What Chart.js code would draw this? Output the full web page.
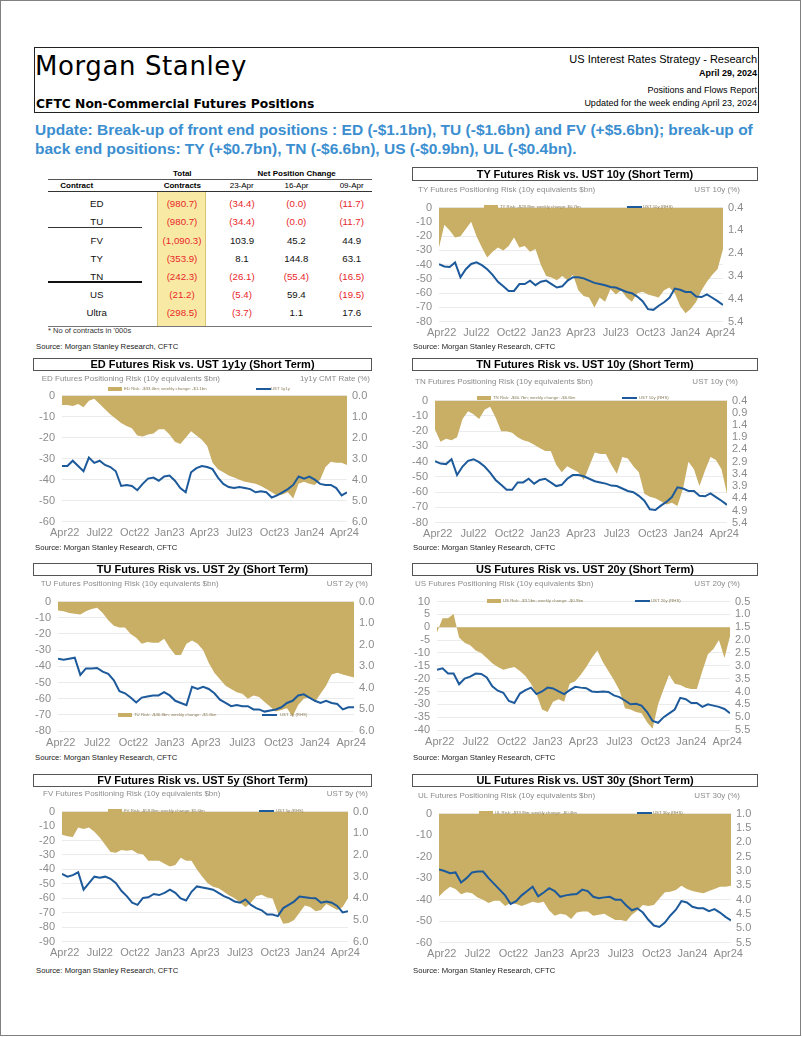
<!DOCTYPE html>
<html><head><meta charset="utf-8">
<script src="https://cdn.jsdelivr.net/npm/chart.js@4.4.1/dist/chart.umd.min.js"></script>
<style>
html,body{margin:0;padding:0;background:#fff}
body{position:relative;width:802px;height:1037px;overflow:hidden;font-family:"Liberation Sans",Arial,sans-serif}
.t{position:absolute;white-space:nowrap}
.box{position:absolute;box-sizing:border-box}
canvas{position:absolute}
</style></head><body>
<div class="box" style="left:0;top:0;width:801px;height:1036px;border:1px solid #808080"></div>
<div class="box" style="left:34px;top:47px;width:725px;height:66px;border:1.5px solid #222"></div>
<script>
// ---------------- DATA ----------------
const xTickWeeks = [0, 13, 26, 39, 52, 65, 78, 91, 104];
const xTickLabels = ['Apr22', 'Jul22', 'Oct22', 'Jan23', 'Apr23', 'Jul23', 'Oct23', 'Jan24', 'Apr24'];

const tyRisk = [-28,-12,-16,-21,-20,-15,-10,-20,-28,-35,-31,-28,-30,-27,-21,-28,-27,-31,-29,-40,-48,-49,-51,-48,-51,-47,-58,-62,-63,-70,-63,-66,-57,-61,-58,-63,-66,-60,-59,-61,-62,-63,-58,-56,-60,-69,-74,-71,-66,-58,-52,-47,-43,-29];
const ust10y = [2.88,2.98,3.0,2.8,3.45,3.1,2.87,2.8,2.92,3.1,3.35,3.65,3.85,4.05,4.05,3.75,3.75,3.6,3.8,3.65,3.6,3.75,3.9,3.85,3.6,3.45,3.45,3.5,3.6,3.7,3.75,3.8,3.88,3.9,4.0,4.1,4.15,4.3,4.5,4.85,4.88,4.7,4.55,4.35,3.95,4.0,4.1,4.1,4.3,4.32,4.2,4.35,4.5,4.67];

const edRisk = [-4.5,-4.5,-5,-4,-5.5,-2.5,-1.5,-4,-6.5,-9,-11,-13,-14.5,-15.5,-19,-19.5,-18.5,-18,-16,-16,-18.5,-22,-23,-20,-17,-19,-21,-24,-32,-35,-36.5,-38,-39,-40,-41,-41.5,-42,-43,-44.5,-46,-47.5,-47,-46,-49,-42,-41,-42,-42.5,-40,-34,-31.5,-32,-32,-33];
const ust1y1y = [3.35,3.35,3.1,3.35,3.6,2.95,3.2,3.1,3.3,3.4,3.6,4.3,4.25,4.3,4.5,4.2,3.95,3.9,4.05,3.85,3.8,4.05,4.4,4.6,3.65,3.45,3.35,3.4,3.5,3.9,4.2,4.35,4.4,4.35,4.4,4.45,4.6,4.55,4.6,4.85,4.75,4.6,4.45,4.25,3.85,3.95,3.85,4.0,4.2,4.25,4.25,4.4,4.75,4.6];

const tnRisk = [-19,-27,-25,-26,-24,-12,-7,-9,-12,-6,-4,-11,-20,-20,-21,-24,-26,-27,-29,-31,-33,-33,-42,-47,-43,-45,-47,-52,-43,-34,-35,-35,-42,-48,-37,-38,-43,-47,-61,-63,-64,-66,-68,-67,-69,-58,-40,-45,-56,-46,-37,-39,-45,-61];

const tuRisk = [-5.5,-6,-7,-7.5,-8,-6,-4.5,-3.8,-7,-11.5,-15,-16,-16,-20,-22.4,-26,-25,-25.5,-25.5,-23,-28.5,-33,-33,-26,-24,-26,-30,-38,-44,-48,-52,-54,-56,-57,-60,-58,-59,-62,-65,-68,-67,-66,-71,-64,-60,-59,-62,-57,-52,-45,-44,-45,-46,-47];
const ust2y = [2.65,2.7,2.65,2.6,3.4,3.1,3.1,3.08,3.25,3.35,3.65,4.15,4.25,4.45,4.68,4.45,4.4,4.35,4.35,4.2,4.35,4.6,4.7,4.8,3.95,4.05,3.95,4.05,4.25,4.55,4.7,4.85,4.8,4.85,4.85,5.0,5.0,5.1,5.05,5.0,4.9,4.7,4.6,4.35,4.3,4.45,4.6,4.7,4.6,4.7,4.75,5.0,4.9,4.9];

const usRisk = [-2,3.5,3.5,5.2,-4,-6,-7,-9,-10,-12,-14,-15.5,-16.5,-16,-15.5,-17,-19,-22,-26,-32,-33,-29,-28,-29,-22,-21,-18.5,-15.5,-12,-9,-13.5,-17,-20.5,-24.5,-31.5,-32,-33,-33.5,-37,-39.5,-30,-24,-18.5,-22,-22.5,-23.5,-24,-24,-17,-10.5,-8.5,-5,-12,-3.5];
const ust20y = [3.15,3.1,3.3,3.3,3.72,3.5,3.42,3.3,3.32,3.45,3.8,3.97,4.05,4.37,4.45,4.08,3.95,3.85,4.1,4.0,3.85,3.88,4.0,4.1,3.95,3.82,3.85,3.87,4.0,4.02,4.0,4.02,4.15,4.22,4.35,4.5,4.48,4.55,4.8,5.15,5.22,5.0,4.85,4.7,4.25,4.3,4.45,4.45,4.6,4.5,4.55,4.6,4.68,4.85];

const fvRisk = [-16,-17,-17.5,-11,-12,-11,-14,-18,-23,-28,-28.5,-26.5,-27,-26.5,-29,-29.5,-34,-34,-34,-36,-38,-37,-32,-34,-34,-40,-45,-49.5,-52,-53,-55.5,-58,-60,-63,-66,-63,-58.5,-57.5,-59.5,-60,-70,-77.5,-77,-75,-70,-65,-66,-69,-68,-64,-66,-68,-66,-60];
const ust5y = [2.87,3.0,2.93,2.8,3.6,3.3,3.0,3.05,3.0,3.1,3.3,3.65,3.9,4.2,4.3,3.98,3.95,3.8,3.85,3.75,3.6,3.75,4.0,4.1,3.7,3.45,3.5,3.55,3.6,3.75,3.9,4.0,4.15,4.2,4.05,4.3,4.45,4.55,4.75,4.75,4.82,4.45,4.3,4.15,3.92,3.95,3.98,4.0,4.2,4.15,4.2,4.35,4.65,4.6];

const ulRisk = [-38.5,-36,-34,-35,-37.5,-36.5,-37,-39,-40,-41.5,-40.5,-40.5,-43,-41.5,-42,-43,-42,-41,-41.5,-41,-45,-47.5,-46.5,-47,-49,-46,-45.5,-45.5,-47.5,-47,-46.5,-48,-49.5,-49.5,-50,-47,-45,-42.5,-43,-42.5,-39.5,-36.5,-36.3,-35.5,-33.5,-35,-36,-36.5,-37,-36,-35,-34,-34,-33.5];
const ust30y = [2.95,3.0,3.08,3.05,3.4,3.25,3.05,3.02,3.02,3.25,3.45,3.65,3.85,4.15,4.05,3.85,3.7,3.55,3.88,3.75,3.6,3.7,3.9,3.85,3.82,3.8,3.65,3.7,3.9,3.95,3.92,3.9,4.0,4.0,4.2,4.37,4.3,4.45,4.7,4.9,4.95,4.8,4.55,4.35,4.05,4.1,4.25,4.3,4.3,4.4,4.33,4.45,4.6,4.72];

// table
const tableContracts = ['ED', 'TU', 'FV', 'TY', 'TN', 'US', 'Ultra'];
const totalContracts = [-980.7, -980.7, -1090.3, -353.9, -242.3, -21.2, -298.5];
const chg23Apr = [-34.4, -34.4, 103.9, 8.1, -26.1, -5.4, -3.7];
const chg16Apr = [-0, -0, 45.2, 144.8, -55.4, 59.4, 1.1];
const chg09Apr = [-11.7, -11.7, 44.9, 63.1, -16.5, -19.5, 17.6];

// tick arrays
const ticks0to80 = [0, -10, -20, -30, -40, -50, -60, -70, -80];
const ticks0to60 = [0, -10, -20, -30, -40, -50, -60];
const ticks0to90 = [0, -10, -20, -30, -40, -50, -60, -70, -80, -90];
const ticks10to40 = [10, 5, 0, -5, -10, -15, -20, -25, -30, -35, -40];
const r04step1 = [0.4, 1.4, 2.4, 3.4, 4.4, 5.4];
const r04step05 = [0.4, 0.9, 1.4, 1.9, 2.4, 2.9, 3.4, 3.9, 4.4, 4.9, 5.4];
const r0to6 = [0, 1, 2, 3, 4, 5, 6];
const r05to55 = [0.5, 1, 1.5, 2, 2.5, 3, 3.5, 4, 4.5, 5, 5.5];
const r1to55 = [1, 1.5, 2, 2.5, 3, 3.5, 4, 4.5, 5, 5.5];

// ---------------- HELPERS ----------------
const GOLD = '#c9ae65';
const BLUE = '#1d5a9b';
const GREY = '#8c8c8c';
const FONT = '"Liberation Sans", Arial, sans-serif';

function T(text, x, cy, o) {
  o = o || {};
  const size = o.size || 10, lh = Math.round(size * 1.3);
  const d = document.createElement('div');
  d.className = 't';
  d.textContent = text;
  let s = `font-size:${size}px;line-height:${lh}px;top:${cy - lh / 2}px;color:${o.color || '#000'};font-weight:${o.weight || (o.bold ? 'bold' : 'normal')};`;
  if (o.family) s += `font-family:${o.family};`;
  if (o.ls) s += `letter-spacing:${o.ls}px;`;
  if (o.align === 'right') s += `right:${802 - x}px;text-align:right;`;
  else if (o.align === 'center') s += `left:${x - 300}px;width:600px;text-align:center;`;
  else s += `left:${x}px;`;
  d.style.cssText = s;
  document.body.appendChild(d);
  return d;
}
function R(x, y, w, h, css) {
  const d = document.createElement('div');
  d.className = 'box';
  d.style.cssText = `left:${x}px;top:${y}px;width:${w}px;height:${h}px;${css}`;
  document.body.appendChild(d);
  return d;
}

// ---------------- HEADER ----------------
T('Morgan Stanley', 35, 65.5, {size: 26, family: '"DejaVu Sans", sans-serif', ls: 0.6});
T('CFTC Non-Commercial Futures Positions', 36, 104, {size: 12.3, bold: true, family: '"DejaVu Sans", sans-serif'});
T('US Interest Rates Strategy - Research', 757, 58.5, {size: 11, align: 'right'});
T('April 29, 2024', 757, 73, {size: 9, bold: true, align: 'right'});
T('Positions and Flows Report', 757, 89.5, {size: 9, align: 'right'});
T('Updated for the week ending April 23, 2024', 757, 103, {size: 9, align: 'right'});
const UPD = '#3b8ed0';
T('Update: Break-up of front end positions : ED (-$1.1bn), TU (-$1.6bn) and FV (+$5.6bn); break-up of', 35, 129.5, {size: 15.5, bold: true, color: UPD});
T('back end positions: TY (+$0.7bn), TN (-$6.6bn), US (-$0.9bn), UL (-$0.4bn).', 35, 148.5, {size: 15.5, bold: true, color: UPD});

// ---------------- TABLE ----------------
R(157, 191.5, 49, 134.5, 'background:#f8eaa4;border-left:1px solid #d8c474;border-right:1px solid #d8c474');
R(48, 179, 324, 1, 'background:#555');
R(48, 191, 324, 1.2, 'background:#333');
R(48, 227, 94, 1, 'background:#333');
R(48, 281, 94, 1.8, 'background:#111');
R(48, 325.5, 324, 1, 'background:#777');
T('Total', 182.3, 174, {size: 8, bold: true, align: 'center'});
T('Net Position Change', 296.7, 174, {size: 8, bold: true, align: 'center'});
T('Contract', 76.7, 185.5, {size: 8, bold: true, align: 'center'});
T('Contracts', 182.3, 185.5, {size: 8, bold: true, align: 'center'});
T('23-Apr', 241.7, 185.5, {size: 8, align: 'center'});
T('16-Apr', 296.5, 185.5, {size: 8, align: 'center'});
T('09-Apr', 351.7, 185.5, {size: 8, align: 'center'});
const rowY = [203.3, 221.7, 240, 258.3, 276, 294.3, 312.7];
function fmt(v) {
  const s = Math.abs(v).toLocaleString('en-US', {minimumFractionDigits: 1, maximumFractionDigits: 1});
  const neg = v < 0 || Object.is(v, -0);
  return {s: neg ? '(' + s + ')' : s, c: neg ? '#e8262a' : '#111'};
}
tableContracts.forEach((c, i) => {
  T(c, 96.7, rowY[i], {size: 9.7, align: 'center', color: '#111'});
  [[totalContracts, 182], [chg23Apr, 242], [chg16Apr, 296.3], [chg09Apr, 351.7]].forEach(([arr, x]) => {
    const f = fmt(arr[i]);
    T(f.s, x, rowY[i], {size: 9.7, align: 'center', color: f.c});
  });
});
T("* No of contracts in '000s", 48, 330.5, {size: 7.5, color: '#333'});
const SRC = 'Source: Morgan Stanley Research, CFTC';
T(SRC, 36, 346.7, {size: 7.7, color: '#222'});

// ---------------- CHARTS ----------------
Chart.defaults.font.family = FONT;
Chart.defaults.font.size = 11;
Chart.defaults.color = GREY;

function makeChart(c) {
  const {L, Rr, Tp, B} = c.rect;
  const cx = Math.floor(L) - 40, cy = Math.floor(Tp) - 9;
  const cw = Math.ceil(Rr) + 40 - cx, ch = Math.ceil(B) + 22 - cy;
  const leftW = L - cx, rightW = cx + cw - Rr, topPad = Tp - cy, botH = cy + ch - B;
  const cv = document.createElement('canvas');
  cv.width = cw; cv.height = ch;
  cv.style.cssText = `left:${cx}px;top:${cy}px;width:${cw}px;height:${ch}px`;
  document.body.appendChild(cv);
  const weeks = c.risk.map((_, i) => -1 + 2 * i);
  new Chart(cv, {
    type: 'line',
    data: {
      datasets: [
        {label: c.lineLabel, data: c.yields.map((v, i) => ({x: weeks[i], y: v})), yAxisID: 'y2',
         borderColor: BLUE, borderWidth: 2, pointRadius: 0, fill: false, tension: 0, order: 0},
        {label: c.riskLabel, data: c.risk.map((v, i) => ({x: weeks[i], y: v})), yAxisID: 'y',
         backgroundColor: GOLD, borderColor: 'rgba(0,0,0,0)', borderWidth: 0, pointRadius: 0, fill: 'origin', tension: 0, order: 1}
      ]
    },
    options: {
      responsive: false, animation: false, devicePixelRatio: 1,
      layout: {padding: {top: topPad, left: 0, right: 0, bottom: 0}},
      plugins: {legend: {display: false}, tooltip: {enabled: false}},
      scales: {
        x: {type: 'linear', min: -1, max: 105, grid: {display: false, drawTicks: false}, border: {display: false},
            afterBuildTicks: s => { s.ticks = xTickWeeks.map(v => ({value: v})); },
            ticks: {autoSkip: false, maxRotation: 0, padding: 5, color: GREY,
                    callback: v => xTickLabels[xTickWeeks.indexOf(v)]},
            afterFit: s => { s.height = botH; }},
        y: {type: 'linear', position: 'left', min: c.lMin, max: c.lMax,
            afterBuildTicks: s => { s.ticks = c.lTicks.map(v => ({value: v})); },
            grid: {color: '#ebebeb', drawTicks: false}, border: {display: false},
            ticks: {autoSkip: false, padding: 7, color: GREY, callback: v => String(v)},
            afterFit: s => { s.width = leftW; }},
        y2: {type: 'linear', position: 'right', reverse: true, min: c.rMin, max: c.rMax,
             afterBuildTicks: s => { s.ticks = c.rTicks.map(v => ({value: v})); },
             grid: {display: false, drawTicks: false}, border: {display: false},
             ticks: {autoSkip: false, padding: 5, color: GREY, callback: v => v.toFixed(1)},
             afterFit: s => { s.width = rightW; }}
      }
    }
  });
  // title box
  const tb = c.titleBox;
  R(tb[0], tb[1], tb[2], tb[3], 'border:1px solid #555;background:#fff');
  T(c.title, tb[0] + tb[2] / 2, tb[1] + tb[3] / 2, {size: 11, bold: true, align: 'center'});
  // axis titles
  T(c.leftTitle, c.axisT[1], c.axisT[0], {size: 8, color: GREY});
  T(c.rightTitle, c.axisT[2], c.axisT[0], {size: 8, color: GREY, align: 'right'});
  // legend
  const lg = c.legend;
  R(lg[1] - 16, lg[0] - 2, 14, 4, `background:${GOLD}`);
  T(c.riskLabel, lg[1], lg[0], {size: 4.3, color: '#877a55'});
  R(lg[2], lg[0] - 1, 15, 2, `background:${BLUE}`);
  T(c.lineLabel, lg[3], lg[0], {size: 4.3, color: '#877a55'});
  // source
  T(SRC, c.src[0], c.src[1], {size: 7.7, color: '#222'});
}

makeChart({title: 'TY Futures Risk vs. UST 10y (Short Term)', rect: {L: 439, Rr: 723, Tp: 203.3, B: 321.7},
  risk: tyRisk, yields: ust10y, lMin: -80, lMax: 0, lTicks: ticks0to80, rMin: 0.4, rMax: 5.4, rTicks: r04step1,
  titleBox: [412, 166.5, 346, 14], axisT: [190, 418, 740],
  leftTitle: 'TY Futures Positioning Risk (10y equivalents $bn)', rightTitle: 'UST 10y (%)',
  riskLabel: 'TY Risk: -$28.8bn; weekly change: $0.7bn', lineLabel: 'UST 10y (RHS)',
  legend: [206.7, 500, 627, 643], src: [413, 346.7]});

makeChart({title: 'ED Futures Risk vs. UST 1y1y (Short Term)', rect: {L: 62, Rr: 347, Tp: 391.7, B: 521.7},
  risk: edRisk, yields: ust1y1y, lMin: -60, lMax: 0, lTicks: ticks0to60, rMin: 0, rMax: 6, rTicks: r0to6,
  titleBox: [33, 357.5, 339, 13.5], axisT: [379, 41.7, 370],
  leftTitle: 'ED Futures Positioning Risk (10y equivalents $bn)', rightTitle: '1y1y CMT Rate (%)',
  riskLabel: 'ED Risk: -$33.0bn; weekly change: -$1.1bn', lineLabel: 'UST 1y1y',
  legend: [389.3, 124, 256, 271], src: [35, 548.3]});

makeChart({title: 'TN Futures Risk vs. UST 10y (Short Term)', rect: {L: 435, Rr: 727, Tp: 396, B: 522.7},
  risk: tnRisk, yields: ust10y, lMin: -80, lMax: 0, lTicks: ticks0to80, rMin: 0.4, rMax: 5.4, rTicks: r04step05,
  titleBox: [412, 357.5, 346, 13.5], axisT: [381.7, 415, 738],
  leftTitle: 'TN Futures Positioning Risk (10y equivalents $bn)', rightTitle: 'UST 10y (%)',
  riskLabel: 'TN Risk: -$60.7bn; weekly change: -$6.6bn', lineLabel: 'UST 10y (RHS)',
  legend: [398.3, 493, 622, 639], src: [413, 547.7]});

makeChart({title: 'TU Futures Risk vs. UST 2y (Short Term)', rect: {L: 58, Rr: 354, Tp: 597.7, B: 731},
  risk: tuRisk, yields: ust2y, lMin: -80, lMax: 0, lTicks: ticks0to80, rMin: 0, rMax: 6, rTicks: r0to6,
  titleBox: [33, 562.5, 339, 13.5], axisT: [584.3, 40.7, 368],
  leftTitle: 'TU Futures Positioning Risk (10y equivalents $bn)', rightTitle: 'UST 2y (%)',
  riskLabel: 'TU Risk: -$46.8bn; weekly change: -$1.6bn', lineLabel: 'UST 2y (RHS)',
  legend: [715, 134, 262, 280], src: [35, 757.5]});

makeChart({title: 'US Futures Risk vs. UST 20y (Short Term)', rect: {L: 437, Rr: 730, Tp: 597.7, B: 730},
  risk: usRisk, yields: ust20y, lMin: -40, lMax: 10, lTicks: ticks10to40, rMin: 0.5, rMax: 5.5, rTicks: r05to55,
  titleBox: [412, 562.5, 346, 13.5], axisT: [584.3, 415, 740],
  leftTitle: 'US Futures Positioning Risk (10y equivalents $bn)', rightTitle: 'UST 20y (%)',
  riskLabel: 'US Risk: -$3.5bn; weekly change: -$0.9bn', lineLabel: 'UST 20y (RHS)',
  legend: [601, 503, 635, 651], src: [413, 757.5]});

makeChart({title: 'FV Futures Risk vs. UST 5y (Short Term)', rect: {L: 62, Rr: 348, Tp: 807.7, B: 941.7},
  risk: fvRisk, yields: ust5y, lMin: -90, lMax: 0, lTicks: ticks0to90, rMin: 0, rMax: 6, rTicks: r0to6,
  titleBox: [33, 773.5, 339, 13.5], axisT: [794.3, 43, 368],
  leftTitle: 'FV Futures Positioning Risk (10y equivalents $bn)', rightTitle: 'UST 5y (%)',
  riskLabel: 'FV Risk: -$59.8bn; weekly change: $5.6bn', lineLabel: 'UST 5y (RHS)',
  legend: [811, 124, 259, 276], src: [36, 971]});

makeChart({title: 'UL Futures Risk vs. UST 30y (Short Term)', rect: {L: 439, Rr: 731, Tp: 809.3, B: 942.7},
  risk: ulRisk, yields: ust30y, lMin: -60, lMax: 0, lTicks: ticks0to60, rMin: 1, rMax: 5.5, rTicks: r1to55,
  titleBox: [412, 773.5, 346, 13.5], axisT: [796, 418, 740],
  leftTitle: 'UL Futures Positioning Risk (10y equivalents $bn)', rightTitle: 'UST 30y (%)',
  riskLabel: 'UL Risk: -$33.9bn; weekly change: -$0.4bn', lineLabel: 'UST 30y (RHS)',
  legend: [812.7, 495, 637, 653], src: [413, 971]});
</script>
</body></html>
